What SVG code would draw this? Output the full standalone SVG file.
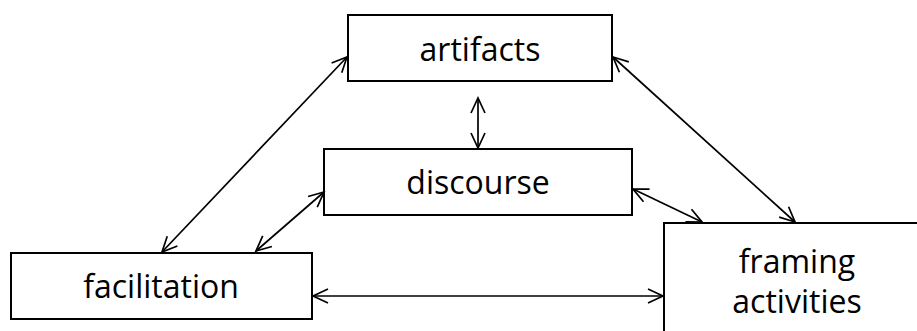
<svg xmlns="http://www.w3.org/2000/svg" width="917" height="331" viewBox="0 0 917 331">
  <style>
    .box { fill: #ffffff; stroke: #000000; stroke-width: 2; }
    .label { font-family: "Open Sans", "Liberation Sans", sans-serif; font-size: 32px; fill: #000000; text-anchor: middle; }
    .link { fill: none; stroke: #000000; stroke-width: 1.7; marker-start: url(#head); marker-end: url(#head); }
  </style>
  <defs>
    <marker id="head" viewBox="0 0 18 18" refX="16" refY="9" markerWidth="18" markerHeight="18" markerUnits="userSpaceOnUse" orient="auto-start-reverse">
      <path d="M1,2 L16,9 L1,16" fill="none" stroke="#000000" stroke-width="1.7"/>
    </marker>
  </defs>
  <rect width="917" height="331" fill="#ffffff"/>

  <g id="artifacts">
    <rect class="box" x="348" y="15" width="264" height="66"/>
    <text class="label" x="480" y="61">artifacts</text>
  </g>

  <g id="discourse">
    <rect class="box" x="324" y="149" width="308" height="66"/>
    <text class="label" x="478" y="194">discourse</text>
  </g>

  <g id="facilitation">
    <rect class="box" x="11" y="253" width="301" height="66"/>
    <text class="label" x="161" y="298">facilitation</text>
  </g>

  <g id="framing-activities">
    <rect class="box" x="664" y="223" width="270" height="130"/>
    <text class="label" x="797" y="273">framing</text>
    <text class="label" x="797" y="313">activities</text>
  </g>

  <g id="connectors">
    <line class="link" x1="478" y1="98" x2="478" y2="148"/>
    <line class="link" x1="347" y1="57" x2="162" y2="252"/>
    <line class="link" x1="324" y1="192" x2="256" y2="251"/>
    <line class="link" x1="613" y1="57" x2="795" y2="222"/>
    <line class="link" x1="633" y1="189" x2="702" y2="222"/>
    <line class="link" x1="313" y1="296" x2="663" y2="296"/>
  </g>
</svg>
